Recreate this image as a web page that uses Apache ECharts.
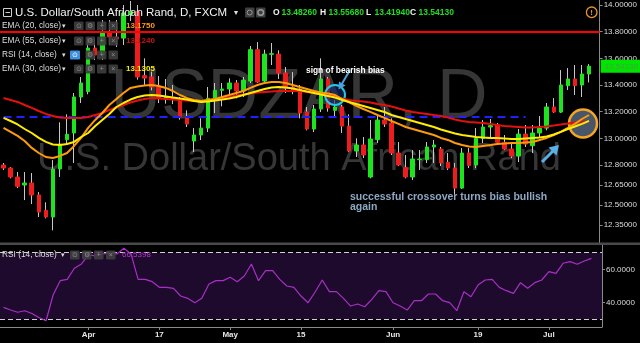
<!DOCTYPE html>
<html><head><meta charset="utf-8">
<script src="https://cdn.jsdelivr.net/npm/echarts@6/dist/echarts.min.js"></script>
<style>html,body{margin:0;padding:0;background:#000;overflow:hidden}#c{width:640px;height:343px;}</style>
</head><body><div id="c"></div>
<script>
const dates = ['2017-03-16','2017-03-17','2017-03-20','2017-03-21','2017-03-22','2017-03-23','2017-03-24','2017-03-27','2017-03-28','2017-03-29','2017-03-30','2017-03-31',
'2017-04-03','2017-04-04','2017-04-05','2017-04-06','2017-04-07','2017-04-10','2017-04-11','2017-04-12','2017-04-13','2017-04-14','2017-04-17','2017-04-18','2017-04-19','2017-04-20','2017-04-21','2017-04-24','2017-04-25','2017-04-26','2017-04-27','2017-04-28',
'2017-05-01','2017-05-02','2017-05-03','2017-05-04','2017-05-05','2017-05-08','2017-05-09','2017-05-10','2017-05-11','2017-05-12','2017-05-15','2017-05-16','2017-05-17','2017-05-18','2017-05-19','2017-05-22','2017-05-23','2017-05-24','2017-05-25','2017-05-26','2017-05-29','2017-05-30','2017-05-31',
'2017-06-01','2017-06-02','2017-06-05','2017-06-06','2017-06-07','2017-06-08','2017-06-09','2017-06-12','2017-06-13','2017-06-14','2017-06-15','2017-06-16','2017-06-19','2017-06-20','2017-06-21','2017-06-22','2017-06-23','2017-06-26','2017-06-27','2017-06-28','2017-06-29','2017-06-30',
'2017-07-03','2017-07-04','2017-07-05','2017-07-06','2017-07-07','2017-07-10','2017-07-11'];
const padDate = '2017-07-12';

const opens = [12.800,12.777,12.710,12.650,12.665,12.575,12.460,12.410,12.770,12.990,13.040,13.310,13.350,13.677,13.625,13.797,13.760,13.752,13.930,13.950,13.470,13.460,13.385,13.300,13.310,13.295,13.160,12.980,13.025,13.077,13.300,13.360,13.370,13.415,13.355,13.430,13.665,13.430,13.630,13.632,13.490,13.385,13.370,13.197,13.070,13.220,13.445,13.210,13.235,13.092,12.905,12.950,12.710,12.990,13.137,13.115,12.890,12.780,12.710,12.840,12.840,12.935,12.920,12.820,12.777,12.627,12.890,12.800,13.000,13.085,13.100,12.970,12.920,12.867,13.032,12.945,13.040,13.077,13.235,13.197,13.395,13.445,13.400,13.4826];
const closes = [12.777,12.710,12.640,12.665,12.575,12.447,12.410,12.770,12.950,13.030,13.310,13.415,13.677,13.625,13.797,13.760,13.745,13.940,13.950,13.460,13.452,13.385,13.300,13.310,13.290,13.160,13.107,13.025,13.077,13.300,13.360,13.370,13.415,13.355,13.437,13.665,13.422,13.632,13.635,13.490,13.377,13.355,13.190,13.070,13.220,13.445,13.227,13.235,13.092,12.905,12.950,12.875,12.995,13.137,13.107,12.890,12.800,12.710,12.845,12.845,12.935,12.950,12.815,12.777,12.627,12.890,12.797,13.000,13.085,13.095,12.970,12.920,12.867,13.032,12.957,13.040,13.077,13.235,13.197,13.400,13.445,13.395,13.482,13.5413];
const lows = [12.762,12.700,12.627,12.537,12.507,12.410,12.400,12.310,12.710,12.950,12.815,13.265,13.330,13.587,13.587,13.700,13.685,13.700,13.880,13.440,13.400,13.360,13.265,13.260,13.257,13.140,13.085,12.897,12.987,13.047,13.190,13.240,13.310,13.300,13.310,13.415,13.415,13.422,13.550,13.445,13.340,13.330,13.150,13.060,13.047,13.197,13.200,13.160,13.040,12.897,12.860,12.852,12.700,12.965,13.085,12.875,12.792,12.700,12.687,12.762,12.815,12.815,12.792,12.762,12.567,12.620,12.777,12.777,12.965,13.010,12.965,12.912,12.852,12.822,12.935,12.890,13.010,13.060,13.190,13.190,13.362,13.325,13.310,13.4194];
const highs = [12.815,12.785,12.747,12.747,12.740,12.597,12.520,12.837,13.120,13.180,13.340,13.460,13.752,13.750,13.887,13.887,13.887,14.000,14.030,14.000,13.600,13.500,13.467,13.445,13.400,13.310,13.210,13.077,13.150,13.385,13.415,13.415,13.450,13.437,13.460,13.692,13.722,13.665,13.715,13.660,13.535,13.497,13.400,13.235,13.250,13.600,13.460,13.287,13.250,13.180,13.000,13.010,13.137,13.180,13.235,13.150,12.972,12.875,12.912,12.912,12.972,12.987,12.935,12.890,12.815,12.927,12.927,13.077,13.137,13.145,13.115,13.025,12.965,13.070,13.100,13.100,13.167,13.265,13.302,13.512,13.527,13.550,13.550,13.5568];

const ema20 = [13.078,13.048,13.018,12.980,12.928,12.890,12.860,12.853,12.868,12.890,12.943,13.003,13.078,13.138,13.190,13.250,13.295,13.340,13.378,13.389,13.396,13.400,13.393,13.378,13.355,13.325,13.303,13.288,13.280,13.288,13.295,13.310,13.325,13.340,13.355,13.378,13.400,13.415,13.423,13.423,13.415,13.400,13.385,13.370,13.355,13.344,13.336,13.325,13.295,13.269,13.243,13.220,13.198,13.175,13.153,13.130,13.108,13.085,13.070,13.055,13.040,13.025,13.003,12.988,12.965,12.950,12.939,12.935,12.943,12.950,12.958,12.961,12.965,12.965,12.969,12.973,12.988,13.003,13.025,13.048,13.078,13.108,13.145,13.175];
const ema30 = [13.153,13.130,13.104,13.070,13.040,13.003,12.973,12.954,12.950,12.958,12.973,13.010,13.040,13.093,13.138,13.183,13.235,13.265,13.291,13.310,13.321,13.325,13.321,13.314,13.306,13.299,13.291,13.280,13.273,13.276,13.284,13.291,13.299,13.310,13.325,13.340,13.355,13.370,13.381,13.385,13.381,13.374,13.363,13.351,13.340,13.329,13.318,13.306,13.288,13.273,13.258,13.243,13.228,13.213,13.198,13.175,13.160,13.145,13.130,13.115,13.100,13.085,13.066,13.051,13.036,13.025,13.018,13.010,13.006,13.003,13.003,12.999,12.995,12.995,12.999,13.003,13.006,13.014,13.029,13.048,13.070,13.089,13.108,13.1305];
const ema55 = [13.303,13.288,13.273,13.250,13.228,13.205,13.183,13.168,13.156,13.153,13.153,13.153,13.160,13.175,13.190,13.213,13.231,13.250,13.269,13.284,13.295,13.303,13.299,13.295,13.291,13.288,13.284,13.280,13.280,13.288,13.295,13.303,13.310,13.321,13.329,13.336,13.344,13.348,13.351,13.355,13.355,13.355,13.355,13.348,13.340,13.333,13.325,13.314,13.299,13.288,13.280,13.276,13.269,13.258,13.250,13.239,13.224,13.209,13.198,13.190,13.183,13.175,13.168,13.156,13.141,13.130,13.123,13.119,13.115,13.108,13.100,13.093,13.089,13.085,13.081,13.081,13.085,13.089,13.096,13.104,13.111,13.119,13.122,13.124];
const rsi14 = [37.2,35.6,34.3,35.2,33.5,31.1,29.2,44.6,53.2,54.0,60.6,63.2,68.6,68.0,69.2,69.6,69.2,72.6,69.2,54.0,54.0,52.6,49.2,49.2,48.6,44.0,42.6,40.0,42.6,51.2,53.2,53.2,55.2,52.6,56.0,63.2,53.2,59.2,59.2,54.0,50.0,49.2,44.0,40.0,46.4,53.6,46.6,46.6,42.6,38.0,39.2,37.6,42.0,47.2,46.6,40.0,38.0,35.6,41.2,41.2,45.2,45.2,41.2,40.0,35.2,46.6,43.6,50.6,53.6,54.0,49.2,47.2,45.6,52.0,48.6,52.0,53.6,58.6,57.6,63.6,64.6,63.0,65.0,66.5398];

const priceTicks = [14.0, 13.8, 13.6, 13.4, 13.2, 13.0, 12.8, 12.65, 12.5, 12.35];
const rsiTicks = [60, 40];
const rsiBands = [70, 30];
const tickDates = ['2017-04-03','2017-04-17','2017-05-01','2017-05-15','2017-06-01','2017-06-19','2017-07-03'];
const tickLabels = ['Apr','17','May','15','Jun','19','Jul'];
const resistance = 13.8;
const support = 13.16;
const supportEnd = '2017-06-28';

const FONT = '"Liberation Sans", Arial, sans-serif';
const cats = dates.concat([padDate]);
const last = opens.length - 1;
const wickData = opens.map((o, i) => [o, closes[i], lows[i], highs[i]]);
const bodyData = opens.map((o, i) => [o, closes[i], Math.min(o, closes[i]), Math.max(o, closes[i])]);

function txt(text, x, y, size, color, weight, align, z) {
  return {type:'text', x:x, y:y, z:z||20, silent:true,
    style:{text:text, font:(weight||'normal')+' '+size+'px '+FONT, fill:color, align:align||'left', verticalAlign:'middle'}};
}
function box(x, y, w, h, fill) {
  return {type:'rect', z:19, silent:true, shape:{x:x, y:y, width:w, height:h, r:1}, style:{fill:fill}};
}
const els = [];
// watermark
els.push({type:'text', x:299, y:99, z:1, silent:true, style:{text:'USDZAR, D', font:'70px '+FONT, fill:'#363636', align:'center', verticalAlign:'middle'}});
els.push({type:'text', x:299, y:160, z:1, silent:true, style:{text:'U.S. Dollar/South African Rand', font:'38px '+FONT, fill:'#363636', align:'center', verticalAlign:'middle'}});
// title row
els.push({type:'rect', z:20, silent:true, shape:{x:3.5, y:8.5, width:8, height:8}, style:{fill:'none', stroke:'#cfcfcf', lineWidth:1}});
els.push({type:'line', z:20, silent:true, shape:{x1:5.5, y1:12.5, x2:10, y2:12.5}, style:{stroke:'#cfcfcf', lineWidth:1}});
els.push(txt('U.S. Dollar/South African Rand, D, FXCM', 15, 13, 11.5, '#f2f2f2'));
els.push(txt('\u25BE', 234, 13, 8, '#e0e0e0'));
els.push(box(245, 7.5, 9.5, 10, 'rgba(70,70,70,0.9)'));
els.push(box(256, 7.5, 9.5, 10, 'rgba(70,70,70,0.9)'));
els.push({type:'circle', z:20, silent:true, shape:{cx:249.7, cy:12.5, r:2.5}, style:{fill:'none', stroke:'#999', lineWidth:1}});
els.push({type:'circle', z:20, silent:true, shape:{cx:260.7, cy:12.5, r:2.8}, style:{fill:'none', stroke:'#999', lineWidth:1.5}});
const ohlc = [['O', 273, opens[last]], ['H', 320, highs[last]], ['L', 366, lows[last]], ['C', 410, closes[last]]];
ohlc.forEach(function (q) {
  els.push(txt(q[0], q[1], 12.5, 8.5, '#f0f0f0', 'bold'));
  els.push(txt(q[2].toFixed(5), q[1] + 8.5, 12.5, 8.5, '#22dd22', 'bold'));
});
// alert icon
els.push({type:'circle', z:20, silent:true, shape:{cx:591.7, cy:12.3, r:5.3}, style:{fill:'none', stroke:'#e8922e', lineWidth:1.3}});
els.push(txt('!', 591.7, 12.6, 8, '#e8922e', 'bold', 'center'));
// legend rows
const rows = [
  {label:'EMA (20, close)', y:26, value:ema20[last].toFixed(4), color:'#ff9c10'},
  {label:'EMA (55, close)', y:41, value:ema55[last].toFixed(4), color:'#c81414'},
  {label:'RSI (14, close)', y:55, value:null, blue:true},
  {label:'EMA (30, close)', y:69, value:ema30[last].toFixed(4), color:'#f5f000'}
];
const glyphs = ['\u2299', '\u2699', '+', '\u00D7'];
rows.forEach(function (r) {
  els.push(txt(r.label, 2, r.y, 8.3, '#dedede'));
  els.push(txt('\u25BE', 62, r.y, 7, '#dedede'));
  const bx = r.blue ? [70, 85.5, 97, 108.5] : [74, 85.5, 97, 108.5];
  bx.forEach(function (x, k) {
    const blue = r.blue && k === 0;
    els.push(box(x, r.y - 4.5, blue ? 10 : 9.5, 9, blue ? '#3d8fe0' : 'rgba(62,62,62,0.9)'));
    els.push(txt(glyphs[k], x + 4.8, r.y, 7, blue ? '#ffffff' : '#8c8c8c', 'normal', 'center', 21));
  });
  if (r.value) els.push(txt(r.value, 126, r.y, 8, r.color, 'bold'));
});
// RSI pane legend
els.push(txt('RSI (14, close)', 2, 255, 8.3, '#dedede'));
els.push(txt('\u25BE', 61, 255, 7, '#dedede'));
[70, 82, 94, 106].forEach(function (x, k) {
  els.push(box(x, 250.5, 9.5, 9, 'rgba(62,62,62,0.9)'));
  els.push(txt(glyphs[k], x + 4.8, 255, 7, '#8c8c8c', 'normal', 'center', 21));
});
els.push(txt(rsi14[last].toFixed(4), 122, 255, 8, '#b236cc'));
// pane separator
els.push({type:'rect', z:20, silent:true, shape:{x:0, y:242.5, width:640, height:2.5}, style:{fill:'#4a4a4a'}});
// annotations
els.push({type:'circle', z:4, silent:true, shape:{cx:335, cy:95, r:10}, style:{fill:'rgba(20,40,105,0.6)', stroke:'#22c8e8', lineWidth:2}});
els.push({type:'circle', z:4, silent:true, shape:{cx:583, cy:123.5, r:14}, style:{fill:'rgba(78,92,115,0.93)', stroke:'#f5a623', lineWidth:2.5}});
els.push({type:'line', z:6, silent:true, shape:{x1:350, y1:70, x2:341.5, y2:84.5}, style:{stroke:'#4aa3df', lineWidth:2}});
els.push({type:'polygon', z:6, silent:true, shape:{points:[[338.5,89.5],[345.5,85.5],[339,81.5]]}, style:{fill:'#4aa3df'}});
els.push({type:'line', z:6, silent:true, shape:{x1:542, y1:162, x2:553, y2:151}, style:{stroke:'#5ab0e8', lineWidth:3}});
els.push({type:'polygon', z:6, silent:true, shape:{points:[[559,145],[556.5,155.5],[548.5,147.5]]}, style:{fill:'#5ab0e8'}});
els.push(txt('sign of bearish bias', 306, 70.5, 8.4, '#ffffff', 'bold'));
els.push(txt('successful crossover turns bias bullish', 350, 197.5, 10.5, '#8ba8c4', 'bold'));
els.push(txt('again', 350, 207.5, 10.5, '#8ba8c4', 'bold'));

const axisGrey = '#8a8a8a';
const option = {
  backgroundColor:'#000000',
  animation:false,
  grid:[{left:-4, right:38, top:0, height:244}, {left:-4, right:38, top:244, height:83}],
  xAxis:[
    {type:'category', gridIndex:0, data:cats, boundaryGap:true, axisLine:{show:false}, axisTick:{show:false}, axisLabel:{show:false}, splitLine:{show:false}},
    {type:'category', gridIndex:1, data:cats, boundaryGap:true,
      axisLine:{show:true, lineStyle:{color:axisGrey, width:1}},
      axisTick:{show:true, alignWithLabel:true, length:3, interval:function(i, v){return tickDates.indexOf(v) >= 0;}, lineStyle:{color:axisGrey}},
      axisLabel:{interval:function(i, v){return tickDates.indexOf(v) >= 0;}, formatter:function(v){const k = tickDates.indexOf(v); return k >= 0 ? tickLabels[k] : '';},
        color:'#e6e6e6', fontSize:8, fontWeight:'bold', fontFamily:FONT, margin:4},
      splitLine:{show:false}}
  ],
  yAxis:[
    {type:'value', gridIndex:0, position:'right', min:12.2075, max:14.0375, splitLine:{show:false},
      axisLine:{show:true, lineStyle:{color:axisGrey}},
      axisTick:{show:true, length:3, customValues:priceTicks, lineStyle:{color:axisGrey}},
      axisLabel:{customValues:priceTicks, formatter:function(v){return v.toFixed(5);}, color:'#dcdcdc', fontSize:8, fontFamily:FONT, margin:4}},
    {type:'value', gridIndex:1, position:'right', min:25.45, max:75.15, splitLine:{show:false},
      axisLine:{show:true, lineStyle:{color:axisGrey}},
      axisTick:{show:true, length:3, customValues:rsiTicks, lineStyle:{color:axisGrey}},
      axisLabel:{customValues:rsiTicks, formatter:function(v){return v.toFixed(4);}, color:'#dcdcdc', fontSize:8, fontFamily:FONT, margin:4}}
  ],
  series:[
    {type:'candlestick', name:'wicks', xAxisIndex:0, yAxisIndex:0, data:wickData, barWidth:1, z:2, silent:true,
      itemStyle:{color:'#c8c8c8', color0:'#c8c8c8', borderColor:'#c8c8c8', borderColor0:'#c8c8c8', borderWidth:1},
      markLine:{silent:true, symbol:['none','none'], z:5,
        data:[
          {yAxis:resistance, lineStyle:{color:'#ff0000', width:2, type:'solid'}, label:{show:false}},
          [{coord:[cats[0], support], lineStyle:{color:'#1f1fff', width:2, type:[8,5]}, label:{show:false}}, {coord:[supportEnd, support]}]
        ]}},
    {type:'candlestick', name:'bodies', xAxisIndex:0, yAxisIndex:0, data:bodyData, barWidth:4, z:3, silent:true,
      itemStyle:{color:'#1de51d', color0:'#ee1c1c', borderColor:'#1de51d', borderColor0:'#ee1c1c', borderWidth:1},
      markLine:{silent:true, symbol:['none','none'], z:20,
        data:[
          {yAxis:closes[last], lineStyle:{color:'rgba(0,0,0,0)', width:1}, label:{show:true, position:'end', distance:1, formatter:function(){return closes[last].toFixed(5);},
            color:'#4c9c4c', backgroundColor:'#00e400', fontSize:8, fontFamily:FONT, padding:[3,5,2,4]}}
        ]}},
    {type:'line', name:'EMA55', xAxisIndex:0, yAxisIndex:0, data:ema55, symbol:'none', z:5, silent:true, lineStyle:{color:'#e31010', width:2}},
    {type:'line', name:'EMA20', xAxisIndex:0, yAxisIndex:0, data:ema20, symbol:'none', z:5, silent:true, lineStyle:{color:'#ff9a0a', width:2}},
    {type:'line', name:'EMA30', xAxisIndex:0, yAxisIndex:0, data:ema30, symbol:'none', z:5, silent:true, lineStyle:{color:'#ffec00', width:2}},
    {type:'line', name:'RSI', xAxisIndex:1, yAxisIndex:1, data:rsi14, symbol:'none', z:5, silent:true, lineStyle:{color:'#a630c4', width:1.2},
      markLine:{silent:true, symbol:['none','none'], label:{show:false}, lineStyle:{color:'#d0d0d0', width:1, type:[5,3]},
        data:rsiBands.map(function(b){return {yAxis:b};})},
      markArea:{silent:true, itemStyle:{color:'#1e0a2c'}, data:[[{yAxis:rsiBands[1]}, {yAxis:rsiBands[0]}]]}}
  ],
  graphic:{elements:els}
};
const chart = echarts.init(document.getElementById('c'));
chart.setOption(option);
</script>
</body></html>
